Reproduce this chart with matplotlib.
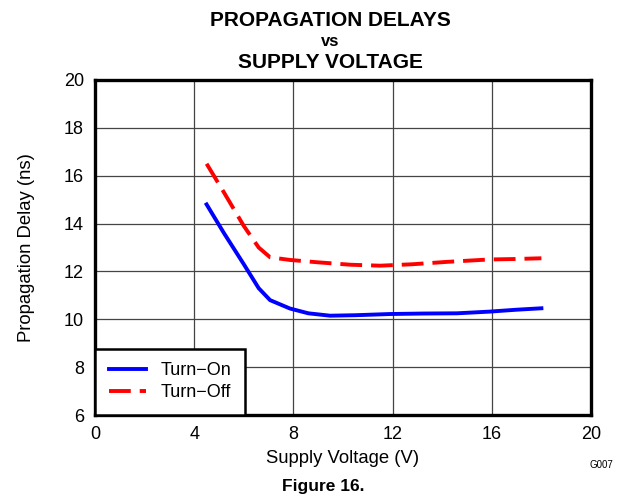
import matplotlib
matplotlib.use('Agg')
import matplotlib.pyplot as plt

plt.rcParams['font.family'] = ['Liberation Sans', 'DejaVu Sans']

# values
vcc_on = [4.5, 5.2, 6.0, 6.6, 7.06, 7.86, 8.6, 9.48, 10.5, 11.9, 13.2, 14.6, 15.9, 17.0, 18.0]
t_on = [14.8, 13.6, 12.3, 11.3, 10.8, 10.45, 10.25, 10.15, 10.17, 10.22, 10.24, 10.25, 10.32, 10.4, 10.46]
vcc_off = [4.5, 5.2, 6.0, 6.6, 7.06, 7.86, 9.0, 10.3, 11.5, 12.8, 14.2, 15.9, 17.0, 18.0]
t_off = [16.5, 15.3, 13.9, 13.0, 12.59, 12.48, 12.38, 12.28, 12.24, 12.3, 12.4, 12.5, 12.52, 12.55]

x_ticks = [0, 4, 8, 12, 16, 20]
y_ticks = [6, 8, 10, 12, 14, 16, 18, 20]

fig = plt.figure(figsize=(6.23, 4.97), dpi=100)
ax = fig.add_axes([95 / 623, 1 - 415 / 497, 496 / 623, 335 / 497])

ax.plot(vcc_on, t_on, color='#0000ff', lw=2.8, label='Turn\u2212On', zorder=3)
ax.plot(vcc_off, t_off, color='#ff0000', lw=2.8, dashes=(5.6, 2.3), label='Turn\u2212Off', zorder=3)

ax.set_xlim(0, 20)
ax.set_ylim(6, 20)
ax.set_xticks(x_ticks)
ax.set_yticks(y_ticks)
ax.tick_params(length=0, labelsize=13, pad=8)
ax.grid(True, color='#444444', lw=0.9)
for s in ax.spines.values():
    s.set_linewidth(2.4)
    s.set_color('black')

ax.set_xlabel('Supply Voltage (V)', fontsize=13.3, labelpad=5)
ax.set_ylabel('Propagation Delay (ns)', fontsize=13.3, labelpad=21)

leg = ax.legend(loc='lower left', fontsize=13, fancybox=False, framealpha=1,
                edgecolor='black', borderaxespad=0, handlelength=2.05,
                handletextpad=0.85, borderpad=0.75, labelspacing=0.3)
leg.get_frame().set_linewidth(1.8)

fig.text(330 / 623, 1 - 20 / 497, 'PROPAGATION DELAYS', ha='center', va='center',
         fontsize=15, fontweight='bold')
fig.text(330 / 623, 1 - 41 / 497, 'vs', ha='center', va='center',
         fontsize=12, fontweight='bold')
fig.text(330 / 623, 1 - 62 / 497, 'SUPPLY VOLTAGE', ha='center', va='center',
         fontsize=15, fontweight='bold')
fig.text(601 / 623, 1 - 465 / 497, 'G007', ha='center', va='center', fontsize=7)
fig.text(323 / 623, 1 - 487 / 497, 'Figure 16.', ha='center', va='center',
         fontsize=12.5, fontweight='bold')

fig.savefig('out.png', dpi=100)
